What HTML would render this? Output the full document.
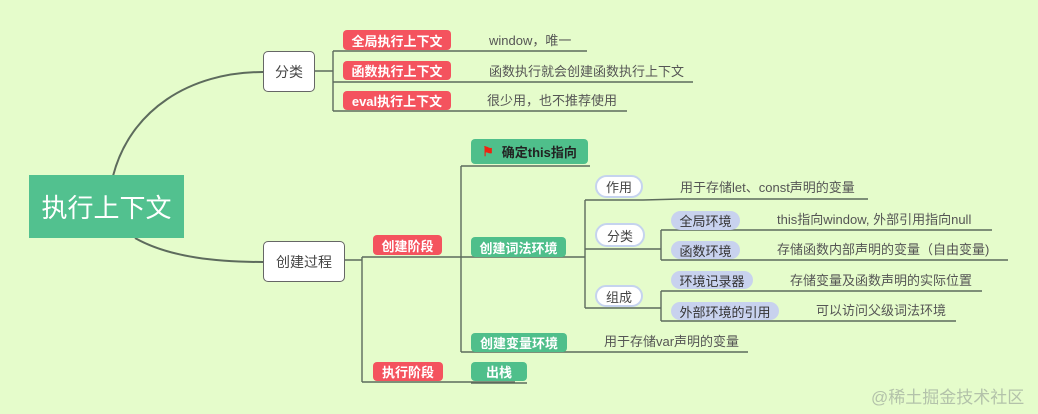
<!DOCTYPE html>
<html><head><meta charset="utf-8"><style>
body{margin:0;width:1038px;height:414px;background:#e5fccb;position:relative;overflow:hidden;font-family:"Liberation Sans","Noto Sans CJK SC",sans-serif;}
.a{position:absolute;box-sizing:border-box;white-space:nowrap;display:flex;align-items:center;justify-content:center;}
.red{background:#f4535e;color:#fff;font-weight:bold;font-size:13px;border-radius:4px;}
.grn{background:#4fbf8b;color:#fff;font-weight:bold;font-size:13px;border-radius:4px;}
.box{background:#fff;border:1px solid #666;border-radius:5px;color:#444;font-size:14px;}
.pill{background:#fff;border:2px solid #c5d3ee;border-radius:12px;color:#444;font-size:13px;}
.lav{background:#c8d2ee;border-radius:10px;color:#333;font-size:13px;}
.t{position:absolute;white-space:nowrap;color:#555;font-size:13px;line-height:16px;}
</style></head><body>
<svg width="1038" height="414" style="position:absolute;left:0;top:0" fill="none" stroke="#5d6b5d" stroke-width="1.4">
<path d="M113 176 C130 110 190 72 263 72" stroke-width="2"/>
<path d="M135 238 C170 258 220 262 263 262" stroke-width="2"/>
<path d="M315 71 H333 M333 51 V111 M333 51 H587 M333 82 H693 M333 111 H627"/>
<path d="M345 260 H362 M362 257 V382 M362 257 H461 M362 382 H515"/>
<path d="M461 166 V352 M461 166 H590 M461 257 H585 M461 352 H748 M471 383 H527"/>
<path d="M585 200 V308 M585 200 H643 L680 199 H868 M585 249 H661 M585 308 H661"/>
<path d="M661 230 V260 M661 230 H992 M661 260 H1008 M661 291 V321 M661 291 H982 M661 321 H956"/>
</svg>
<div class="a" style="left:29px;top:175px;width:155px;height:63px;background:#52c18f;color:#fff;font-size:26px;">执行上下文</div>
<div class="a box" style="left:263px;top:51px;width:52px;height:41px;">分类</div>
<div class="a box" style="left:263px;top:241px;width:82px;height:41px;">创建过程</div>
<div class="a red" style="left:343px;top:30px;width:108px;height:20px;">全局执行上下文</div>
<div class="a red" style="left:343px;top:61px;width:108px;height:19px;">函数执行上下文</div>
<div class="a red" style="left:343px;top:91px;width:108px;height:19px;">eval执行上下文</div>
<div class="t" style="left:489px;top:33px;">window，唯一</div>
<div class="t" style="left:489px;top:64px;">函数执行就会创建函数执行上下文</div>
<div class="t" style="left:487px;top:93px;">很少用，也不推荐使用</div>
<div class="a red" style="left:373px;top:235px;width:69px;height:20px;">创建阶段</div>
<div class="a red" style="left:373px;top:362px;width:70px;height:19px;">执行阶段</div>
<div class="a grn" style="left:471px;top:139px;width:117px;height:25px;color:#222;"><span style="color:#e21;margin-right:8px">⚑</span>确定this指向</div>
<div class="a grn" style="left:471px;top:237px;width:95px;height:20px;">创建词法环境</div>
<div class="a grn" style="left:471px;top:333px;width:96px;height:19px;">创建变量环境</div>
<div class="a grn" style="left:471px;top:362px;width:56px;height:19px;">出栈</div>
<div class="t" style="left:604px;top:334px;">用于存储var声明的变量</div>
<div class="a pill" style="left:595px;top:175px;width:48px;height:23px;">作用</div>
<div class="a pill" style="left:595px;top:223px;width:50px;height:24px;">分类</div>
<div class="a pill" style="left:595px;top:285px;width:48px;height:22px;">组成</div>
<div class="t" style="left:680px;top:180px;">用于存储let、const声明的变量</div>
<div class="a lav" style="left:671px;top:211px;width:69px;height:19px;">全局环境</div>
<div class="a lav" style="left:671px;top:241px;width:69px;height:18px;">函数环境</div>
<div class="a lav" style="left:671px;top:271px;width:82px;height:18px;">环境记录器</div>
<div class="a lav" style="left:671px;top:302px;width:108px;height:18px;">外部环境的引用</div>
<div class="t" style="left:777px;top:212px;">this指向window, 外部引用指向null</div>
<div class="t" style="left:777px;top:242px;">存储函数内部声明的变量（自由变量)</div>
<div class="t" style="left:790px;top:273px;">存储变量及函数声明的实际位置</div>
<div class="t" style="left:816px;top:303px;">可以访问父级词法环境</div>
<div class="t" style="left:871px;top:388px;font-size:17px;line-height:20px;color:#b3c2aa;">@稀土掘金技术社区</div>
</body></html>
